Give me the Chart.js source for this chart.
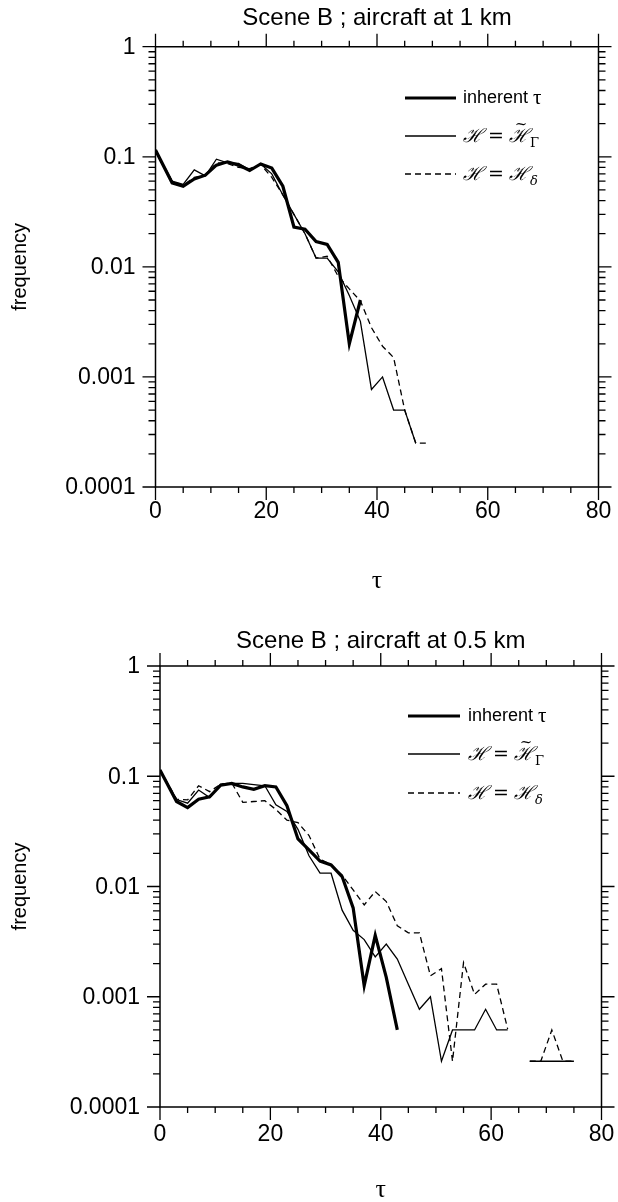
<!DOCTYPE html>
<html>
<head>
<meta charset="utf-8">
<script src="https://cdn.jsdelivr.net/npm/chart.js@4"></script>
<style>
html,body{margin:0;padding:0;background:#fff;}
#wrap{width:618px;height:1202px;position:relative;}
canvas{display:block;}
</style>
</head>
<body>
<div id="wrap">
<canvas id="c1" width="618" height="601"></canvas>
<canvas id="c2" width="618" height="601"></canvas>
</div>
<script>
// ---------- DATA ----------
const titleTop = "Scene B ; aircraft at 1 km";
const titleBottom = "Scene B ; aircraft at 0.5 km";
const xTickLabels = ["0","20","40","60","80"];
const yTickLabels = ["0.0001","0.001","0.01","0.1","1"];
const seriesNames = ["inherent τ", "H = H̃Γ", "H = Hδ"];

const tauTop = [0,3,5,7,9,11,13,15,17,19,21,23,25,27,29,31,33,35,37,39,41,43,45,47,49];
const inherentTop = [0.115,0.058,0.054,0.063,0.068,0.084,0.09,0.084,0.075,0.086,0.079,0.054,0.023,0.022,0.017,0.016,0.011,0.002,0.005,null,null,null,null,null,null];
const gammaTop = [0.115,0.06,0.056,0.076,0.067,0.095,0.088,0.087,0.076,0.086,0.07,0.045,0.03,0.02,0.012,0.012,0.009,0.0055,0.0032,0.00077,0.001,0.0005,0.0005,0.00025,null];
const deltaTop = [0.115,0.06,0.055,0.065,0.068,0.088,0.087,0.08,0.078,0.085,0.065,0.045,0.03,0.02,0.012,0.0125,0.0082,0.0063,0.0049,0.0028,0.0019,0.0015,0.0005,0.00025,0.00025];

const tauBottom = [0,3,5,7,9,11,13,15,17,19,21,23,25,27,29,31,33,35,37,39,41,43,45,47,49,51,53,55,57,59,61,63,65,67,69,71,73,75];
const inherentBottom = [0.114,0.059,0.052,0.062,0.065,0.083,0.086,0.08,0.076,0.082,0.08,0.054,0.027,0.0215,0.017,0.0157,0.0123,0.0064,0.00126,0.0036,0.0015,0.0005];
const gammaBottom = [0.114,0.0615,0.057,0.075,0.064,0.085,0.086,0.086,0.084,0.082,0.055,0.048,0.033,0.019,0.0132,0.0132,0.0061,0.004,0.0033,0.0023,0.003,0.0022,0.0013,0.00077,0.001,0.00026,0.0005,0.0005,0.0005,0.00077,0.0005,0.0005,null,0.00026,0.00026,0.00026,0.00026,0.00026];
const deltaBottom = [0.114,0.062,0.061,0.082,0.0725,0.085,0.087,0.058,0.059,0.06,0.05,0.04,0.038,0.029,0.0177,0.0157,0.0127,0.0093,0.0068,0.009,0.0073,0.0044,0.0038,0.0038,0.00155,0.0018,0.00026,0.00204,0.00105,0.0013,0.0013,0.00051,null,0.00026,0.00026,0.0005,0.00026,0.00026];

// ---------- helpers ----------
function pts(xs, ys){ return xs.map((x,i)=>({x:x, y:(ys[i]===undefined?null:ys[i])})); }

const SANS = '"Liberation Sans", Arial, sans-serif';

function drawMathLabel(ctx, x, y, sub, tilde){
  ctx.save();
  ctx.textBaseline = 'alphabetic';
  ctx.textAlign = 'left';
  ctx.font = 'italic 19px "DejaVu Serif"';
  let cx = x;
  ctx.fillText('ℋ', cx, y); cx += ctx.measureText('ℋ').width + 5;
  ctx.font = '19px "DejaVu Serif"';
  ctx.fillText('=', cx, y); cx += ctx.measureText('=').width + 5;
  ctx.font = 'italic 19px "DejaVu Serif"';
  const hw = ctx.measureText('ℋ').width;
  ctx.fillText('ℋ', cx, y);
  if (tilde){
    ctx.font = '15px "DejaVu Serif"';
    ctx.textAlign = 'center';
    ctx.fillText('~', cx + hw/2 + 2, y - 13);
    ctx.textAlign = 'left';
  }
  cx += hw + 1;
  ctx.font = (sub==='δ' ? 'italic ' : '') + '13px "DejaVu Serif"';
  ctx.fillText(sub, cx, y + 5);
  ctx.restore();
}

function makePlugin(cfg){
  return {
    id: 'sciFrame',
    afterDraw(chart){
      const ctx = chart.ctx;
      const {left, right, top, bottom} = chart.chartArea;
      const xs = chart.scales.x, ys = chart.scales.y;
      ctx.save();
      ctx.strokeStyle = '#000';
      ctx.fillStyle = '#000';
      ctx.lineWidth = 1.5;
      ctx.beginPath();
      ctx.rect(left, top, right-left, bottom-top);
      ctx.stroke();
      ctx.lineWidth = 1.3;
      ctx.beginPath();
      for (let v = 0; v <= 80; v += 5){
        const px = xs.getPixelForValue(v);
        const len = (v % 20 === 0) ? 13 : 6;
        ctx.moveTo(px, bottom); ctx.lineTo(px, bottom + len);
        ctx.moveTo(px, top); ctx.lineTo(px, top - len);
      }
      for (let e = -4; e <= 0; e++){
        for (let m = 1; m <= 9; m++){
          if (e === 0 && m > 1) break;
          const py = ys.getPixelForValue(m * Math.pow(10, e));
          const len = (m === 1) ? 13 : 7;
          ctx.moveTo(left - len, py); ctx.lineTo(left, py);
          ctx.moveTo(right, py); ctx.lineTo(right + len, py);
        }
      }
      ctx.stroke();

      // tick labels
      ctx.font = '23px ' + SANS;
      ctx.textAlign = 'center';
      ctx.textBaseline = 'middle';
      xTickLabels.forEach(t => {
        ctx.fillText(t, xs.getPixelForValue(parseFloat(t)), bottom + cfg.xLabelDy);
      });
      ctx.textAlign = 'right';
      yTickLabels.forEach(t => {
        ctx.fillText(t, left - 20, ys.getPixelForValue(parseFloat(t)) + 1);
      });

      // title
      ctx.textAlign = 'center';
      ctx.font = '24px ' + SANS;
      ctx.fillText(cfg.title, (left+right)/2, cfg.titleY);

      // y axis title
      ctx.save();
      ctx.translate(20, (top+bottom)/2);
      ctx.rotate(-Math.PI/2);
      ctx.font = '20px ' + SANS;
      ctx.fillText('frequency', 0, 0);
      ctx.restore();

      // x axis title
      ctx.font = '26px "Liberation Serif", serif';
      ctx.fillText('τ', (left+right)/2, cfg.tauY);

      // legend
      const L = cfg.legend;
      const styles = [{w:3.2, d:[]},{w:1.3, d:[]},{w:1.3, d:[6,4]}];
      for (let i = 0; i < 3; i++){
        const yy = L.y[i];
        ctx.beginPath();
        ctx.lineWidth = styles[i].w;
        ctx.setLineDash(styles[i].d);
        ctx.moveTo(L.x0, yy); ctx.lineTo(L.x1, yy);
        ctx.stroke();
      }
      ctx.setLineDash([]);
      ctx.textAlign = 'left';
      ctx.textBaseline = 'middle';
      ctx.font = '18px ' + SANS;
      const inh = 'inherent ';
      ctx.fillText(inh, L.tx, L.y[0]);
      const w = ctx.measureText(inh).width;
      ctx.font = '21px "Liberation Serif", serif';
      ctx.fillText('τ', L.tx + w, L.y[0]);
      drawMathLabel(ctx, L.tx, L.y[1] + 6, 'Γ', true);
      drawMathLabel(ctx, L.tx, L.y[2] + 6, 'δ', false);
      ctx.restore();
    }
  };
}

function makeChart(id, tau, inh, gam, del, cfg){
  return new Chart(document.getElementById(id), {
    type: 'line',
    data: {
      datasets: [
        {label: seriesNames[0], data: pts(tau, inh), borderColor:'#000', borderWidth:3.2, pointRadius:0, tension:0, spanGaps:false},
        {label: seriesNames[1], data: pts(tau, gam), borderColor:'#000', borderWidth:1.3, pointRadius:0, tension:0, spanGaps:false},
        {label: seriesNames[2], data: pts(tau, del), borderColor:'#000', borderWidth:1.3, borderDash:[6,4], pointRadius:0, tension:0, spanGaps:false}
      ]
    },
    options: {
      responsive: false,
      animation: false,
      devicePixelRatio: 1,
      layout: {padding: cfg.padding},
      plugins: {legend:{display:false}, tooltip:{enabled:false}, title:{display:false}},
      scales: {
        x: {type:'linear', min:0, max:80, display:false},
        y: {type:'logarithmic', min:0.0001, max:1, display:false}
      }
    },
    plugins: [makePlugin(cfg)]
  });
}

makeChart('c1', tauTop, inherentTop, gammaTop, deltaTop, {
  padding: {left:155.5, right:19.5, top:46.7, bottom:114},
  title: titleTop, titleY: 18, xLabelDy: 25, tauY: 581,
  legend: {x0:405, x1:456, tx:463, y:[98,136,174]}
});
makeChart('c2', tauBottom, inherentBottom, gammaBottom, deltaBottom, {
  padding: {left:160, right:16.5, top:65, bottom:95},
  title: titleBottom, titleY: 40, xLabelDy: 28, tauY: 589,
  legend: {x0:408, x1:460, tx:468, y:[115,153,192]}
});
</script>
</body>
</html>
